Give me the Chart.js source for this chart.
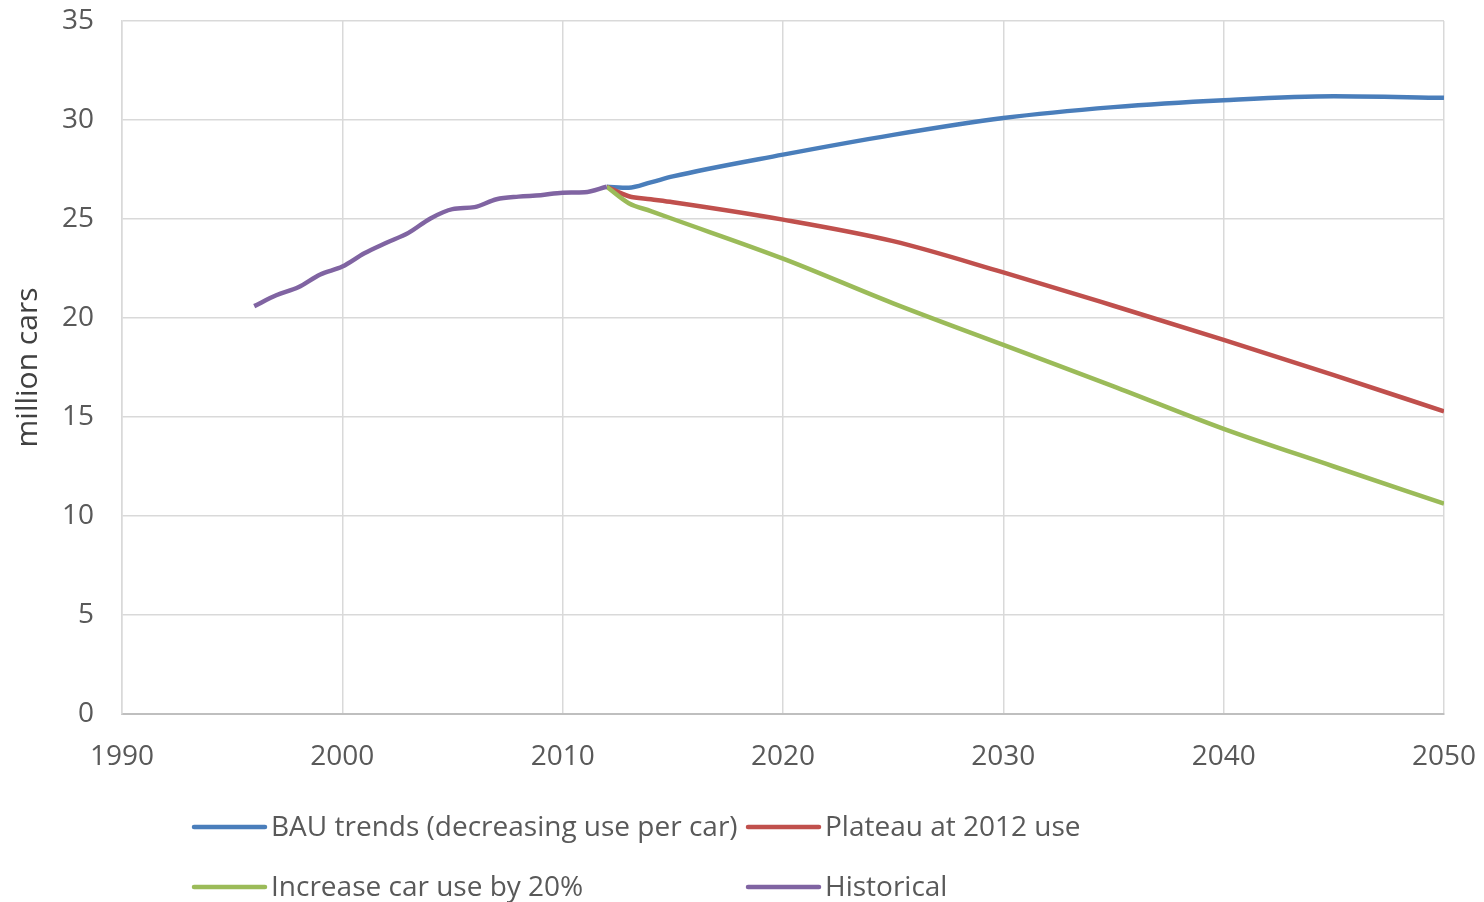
<!DOCTYPE html>
<html>
<head>
<meta charset="utf-8">
<script src="https://cdn.jsdelivr.net/npm/chart.js@4/dist/chart.umd.min.js"></script>
<style>
  html, body { margin: 0; padding: 0; background: #ffffff; }
  #wrap { width: 1484px; height: 902px; position: relative; }
</style>
</head>
<body>
<div id="wrap"><canvas id="chart" width="1484" height="902"></canvas></div>
<script>
// Historical car fleet (million cars)
const histYears  = [1996, 1997, 1998, 1999, 2000, 2001, 2002, 2003, 2004, 2005, 2006, 2007, 2008, 2009, 2010, 2011, 2012];
const histValues = [20.6, 21.15, 21.55, 22.2, 22.6, 23.27, 23.8, 24.3, 25.03, 25.5, 25.6, 26.0, 26.13, 26.2, 26.33, 26.35, 26.63];

// Scenario projections from 2012 onwards
const projYears      = [2012, 2013, 2014, 2015, 2020, 2025, 2030, 2035, 2040, 2045, 2050];
const bauValues      = [26.63, 26.58, 26.85, 27.15, 28.25, 29.25, 30.1, 30.65, 31.0, 31.2, 31.12];
const plateauValues  = [26.63, 26.15, 26.0, 25.85, 24.97, 23.88, 22.3, 20.62, 18.9, 17.12, 15.28];
const increaseValues = [26.63, 25.8, 25.4, 25.0, 23.0, 20.74, 18.64, 16.55, 14.4, 12.5, 10.62];

const seriesLabels = [
  'BAU trends (decreasing use per car)',
  'Plateau at 2012 use',
  'Increase car use by 20%',
  'Historical'
];
const seriesColors = ['#4a7ebb', '#c0504d', '#9bbb59', '#8064a2'];

const xTicks = [1990, 2000, 2010, 2020, 2030, 2040, 2050];
const yTicks = [0, 5, 10, 15, 20, 25, 30, 35];

const FONT = "'Open Sans', sans-serif";
const TEXT = '#595959';

function pairs(xs, ys) {
  return xs.map((x, i) => ({ x: x, y: ys[i] }));
}

// Tick labels may overhang the plot edges without shrinking it
function noOverhang(scale) {
  scale.paddingLeft = 0;
  scale.paddingRight = 0;
  scale.paddingTop = 0;
  scale.paddingBottom = 0;
}

// Excel-style two-column legend drawn beneath the plot
const columnLegend = {
  id: 'columnLegend',
  afterDraw(chart) {
    const ctx = chart.ctx;
    const area = chart.chartArea;
    const startX = area.left + 72;
    const colW = 554;
    const rowY = [area.bottom + 113, area.bottom + 173];
    const sample = 71;
    ctx.save();
    ctx.font = '28px ' + FONT;
    ctx.textBaseline = 'middle';
    ctx.textAlign = 'left';
    chart.data.datasets.forEach((ds, i) => {
      const col = i % 2, row = Math.floor(i / 2);
      const x = startX + col * colW;
      const y = rowY[row];
      ctx.strokeStyle = ds.borderColor;
      ctx.lineWidth = 4.5;
      ctx.lineCap = 'round';
      ctx.beginPath();
      ctx.moveTo(x, y);
      ctx.lineTo(x + sample, y);
      ctx.stroke();
      ctx.fillStyle = TEXT;
      ctx.fillText(ds.label, x + sample + 6, y + 1);
    });
    ctx.restore();
  }
};

const lineBase = {
  borderWidth: 4.5,
  pointRadius: 0,
  fill: false,
  cubicInterpolationMode: 'monotone'
};

new Chart(document.getElementById('chart'), {
  type: 'line',
  data: {
    datasets: [
      Object.assign({ label: seriesLabels[0], data: pairs(projYears, bauValues),      borderColor: seriesColors[0], order: 4 }, lineBase),
      Object.assign({ label: seriesLabels[1], data: pairs(projYears, plateauValues),  borderColor: seriesColors[1], order: 3 }, lineBase),
      Object.assign({ label: seriesLabels[2], data: pairs(projYears, increaseValues), borderColor: seriesColors[2], order: 2 }, lineBase),
      Object.assign({ label: seriesLabels[3], data: pairs(histYears, histValues),      borderColor: seriesColors[3], order: 1 }, lineBase)
    ]
  },
  options: {
    responsive: false,
    animation: false,
    layout: {
      autoPadding: false,
      padding: { left: 0, right: 40, top: 21, bottom: 0 }
    },
    plugins: {
      legend: { display: false },
      tooltip: { enabled: false }
    },
    scales: {
      x: {
        type: 'linear',
        min: xTicks[0],
        max: xTicks[xTicks.length - 1],
        afterBuildTicks: (scale) => { scale.ticks = xTicks.map(v => ({ value: v })); },
        afterFit: (scale) => { scale.height = 188; noOverhang(scale); },
        ticks: {
          color: TEXT,
          font: { family: FONT, size: 28 },
          padding: 26,
          maxRotation: 0,
          callback: (v) => String(v)
        },
        grid: { color: '#d9d9d9', lineWidth: 1.5, drawTicks: false },
        border: { color: '#bfbfbf', width: 2 }
      },
      y: {
        min: yTicks[0],
        max: yTicks[yTicks.length - 1],
        afterBuildTicks: (scale) => { scale.ticks = yTicks.map(v => ({ value: v })); },
        afterFit: (scale) => { scale.width = 122; noOverhang(scale); },
        ticks: {
          color: TEXT,
          font: { family: FONT, size: 28 },
          padding: 28,
          callback: (v) => String(v)
        },
        title: {
          display: true,
          text: 'million cars',
          color: '#404040',
          font: { family: FONT, size: 30 },
          padding: { top: 10, bottom: 0 }
        },
        grid: { color: '#d9d9d9', lineWidth: 1.5, drawTicks: false },
        border: { color: '#d9d9d9', width: 1.5 }
      }
    }
  },
  plugins: [columnLegend]
});
</script>
</body>
</html>
